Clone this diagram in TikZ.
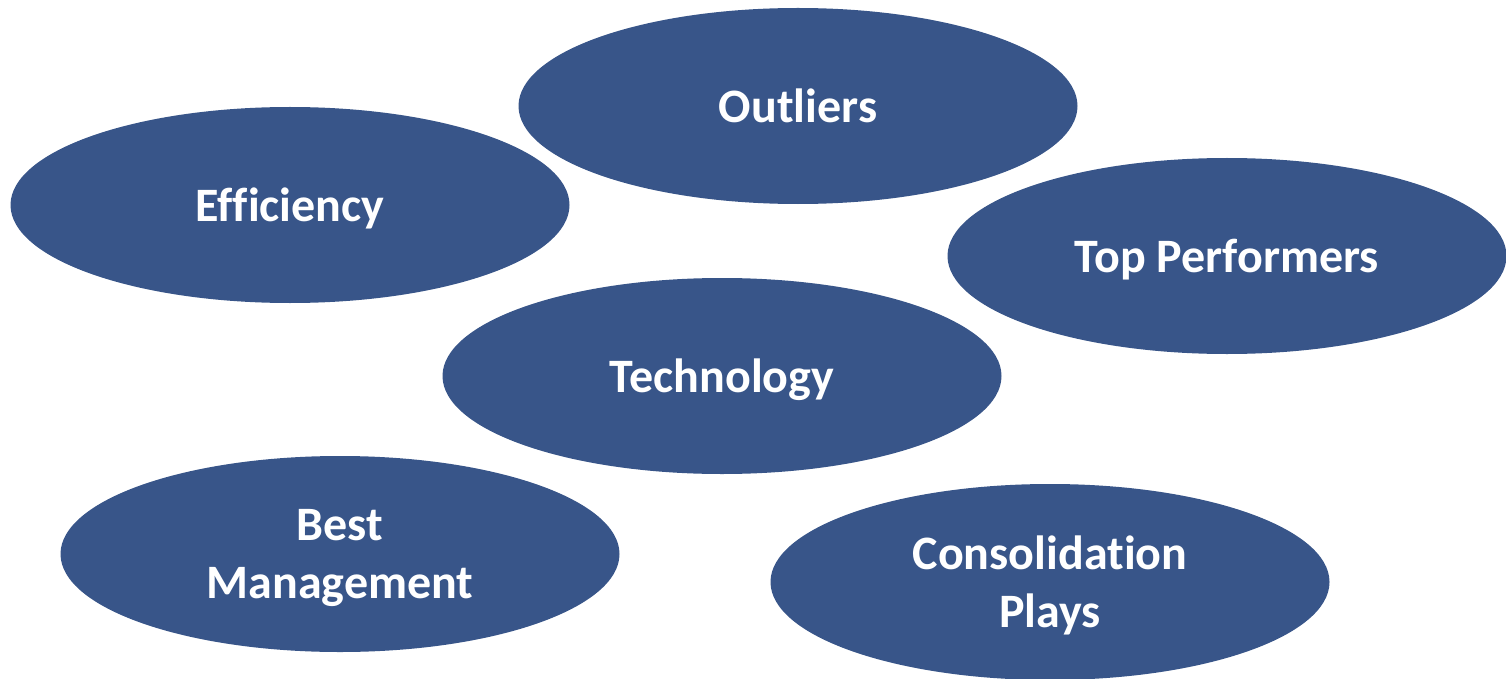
\documentclass[tikz,border=0pt]{standalone}
\usepackage{fontspec}
\setmainfont{Carlito}[Ligatures=CommonOff]
\usetikzlibrary{shapes.geometric}
\definecolor{bubble}{RGB}{56,85,137}
\tikzset{
  bubble/.style={ellipse, fill=bubble, draw=none, inner sep=0pt,
    minimum width=559pt, minimum height=196pt, text depth=0pt,
    text=white, font=\bfseries\fontsize{48}{58}\selectfont, align=center}
}
\begin{document}
\begin{tikzpicture}[x=1pt, y=-1pt]
  \useasboundingbox (0,0) rectangle (1506,679);
  \node[bubble] (outliers)   at (798,106)  {Outliers};
  \node[bubble] (efficiency) at (290,205)  {Efficiency};
  \node[bubble] (top)        at (1227,256) {Top Performers};
  \node[bubble] (tech)       at (722,376)  {Technology};
  \node[bubble] (mgmt)       at (340,554)  {Best\\Management};
  \node[bubble] (consol)     at (1050,582) {Consolidation\\Plays};
\end{tikzpicture}
\end{document}
